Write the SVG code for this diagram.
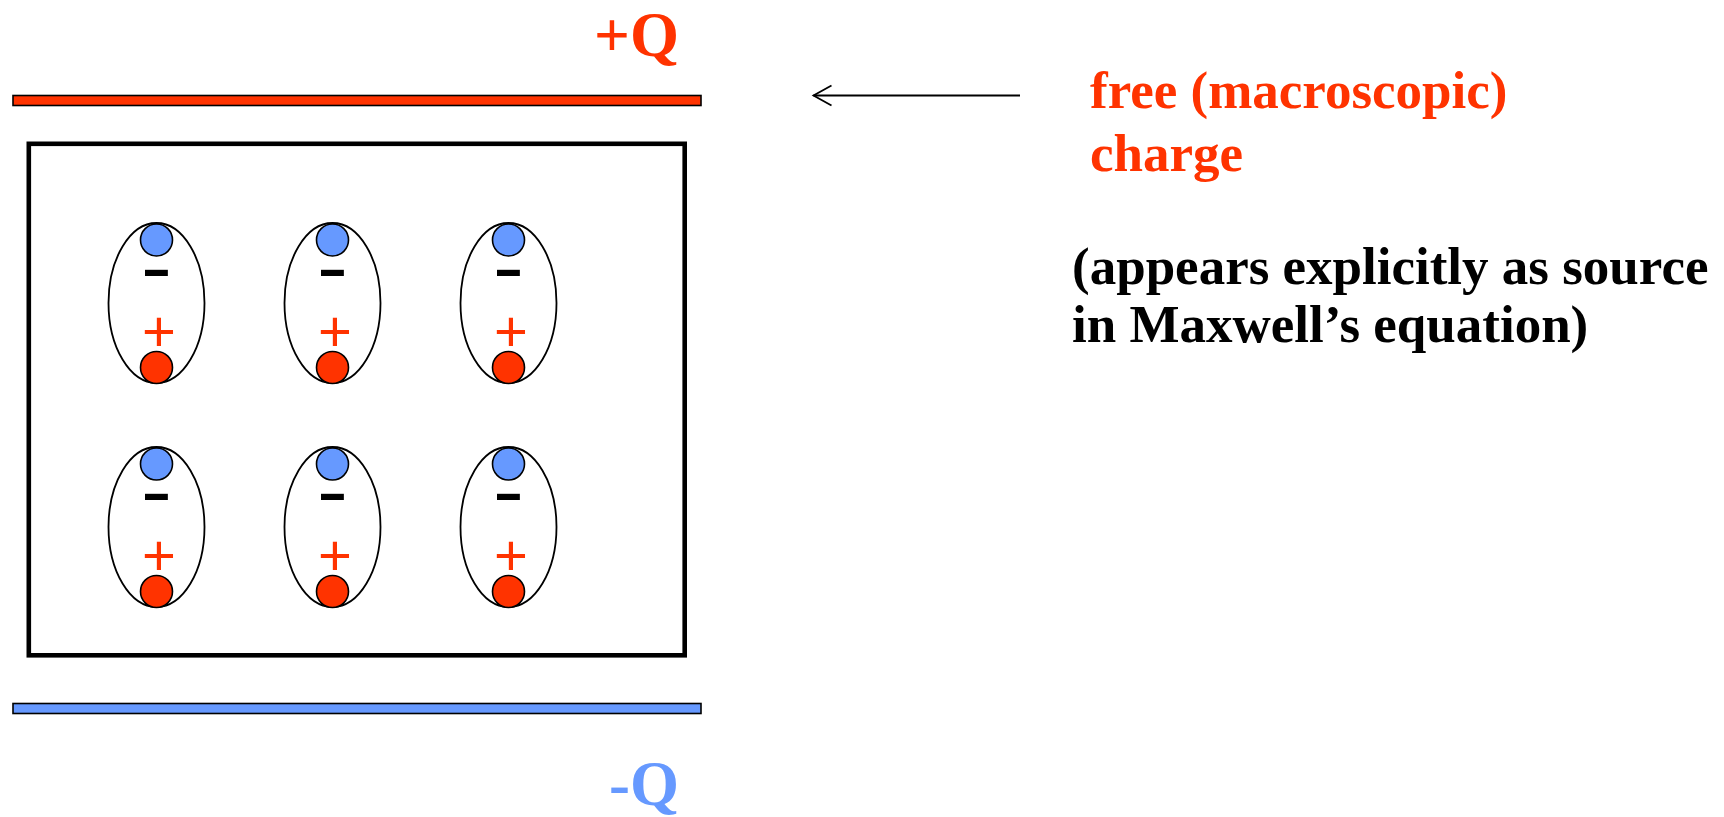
<svg xmlns="http://www.w3.org/2000/svg" width="1724" height="817" viewBox="0 0 1724 817">
  <defs>
    <style>
      .plate { stroke: #000; stroke-width: 1.6; }
      .pos { fill: #FF3300; }
      .neg { fill: #6699FF; }
      .box { fill: none; stroke: #000; stroke-width: 4.6; }
      .shell { fill: none; stroke: #000; stroke-width: 1.8; }
      .atom { stroke: #000; stroke-width: 1.6; }
      .qlabel { font-family: "Liberation Serif", "Times New Roman", serif; font-weight: bold; font-size: 63px; }
      .note { font-family: "Liberation Serif", "Times New Roman", serif; font-weight: bold; font-size: 53px; }
      .plus { font-family: "Liberation Sans", Arial, sans-serif; font-size: 58px; fill: #FF3300; text-anchor: middle; }
      .minus { font-family: "Liberation Sans", Arial, sans-serif; font-weight: bold; font-size: 52px; fill: #000; text-anchor: middle; }
      .conn { fill: none; stroke: #000; stroke-width: 1.8; }
    </style>
    <marker id="openArrow" markerUnits="userSpaceOnUse" markerWidth="26" markerHeight="26" refX="22" refY="12" orient="auto">
      <path d="M4,2 L22,12 L4,22" fill="none" stroke="#000" stroke-width="1.8"/>
    </marker>
    <!-- one dipole: blue (negative) end on top, red (positive) end at the bottom -->
    <g id="dipole">
      <ellipse class="shell" cx="0" cy="0" rx="48" ry="80"/>
      <circle class="atom neg" cx="0" cy="-63" r="16"/>
      <circle class="atom pos" cx="0" cy="64.5" r="16"/>
    </g>
  </defs>

  <!-- capacitor plates -->
  <g id="plate-top">
    <rect class="plate pos" x="13" y="95.5" width="688" height="10"/>
    <text class="qlabel pos" x="679" y="56" text-anchor="end">+Q</text>
  </g>
  <g id="plate-bottom">
    <rect class="plate neg" x="13" y="703.5" width="688" height="10"/>
    <text class="qlabel neg" x="679" y="805" text-anchor="end">-Q</text>
  </g>

  <!-- dielectric slab -->
  <g id="dielectric">
    <rect class="box" x="28.8" y="143.8" width="655.9" height="511.5"/>
  </g>

  <!-- polarized molecules, two rows of three -->
  <g id="dipole-1-1">
    <use href="#dipole" x="156.5" y="303"/>
    <text class="minus" x="156.5" y="286" textLength="30" lengthAdjust="spacingAndGlyphs">-</text>
    <text class="plus" x="159" y="351">+</text>
  </g>
  <g id="dipole-1-2">
    <use href="#dipole" x="332.5" y="303"/>
    <text class="minus" x="332.5" y="286" textLength="30" lengthAdjust="spacingAndGlyphs">-</text>
    <text class="plus" x="335" y="351">+</text>
  </g>
  <g id="dipole-1-3">
    <use href="#dipole" x="508.5" y="303"/>
    <text class="minus" x="508.5" y="286" textLength="30" lengthAdjust="spacingAndGlyphs">-</text>
    <text class="plus" x="511" y="351">+</text>
  </g>
  <g id="dipole-2-1">
    <use href="#dipole" x="156.5" y="527"/>
    <text class="minus" x="156.5" y="510" textLength="30" lengthAdjust="spacingAndGlyphs">-</text>
    <text class="plus" x="159" y="575">+</text>
  </g>
  <g id="dipole-2-2">
    <use href="#dipole" x="332.5" y="527"/>
    <text class="minus" x="332.5" y="510" textLength="30" lengthAdjust="spacingAndGlyphs">-</text>
    <text class="plus" x="335" y="575">+</text>
  </g>
  <g id="dipole-2-3">
    <use href="#dipole" x="508.5" y="527"/>
    <text class="minus" x="508.5" y="510" textLength="30" lengthAdjust="spacingAndGlyphs">-</text>
    <text class="plus" x="511" y="575">+</text>
  </g>

  <!-- annotation -->
  <g id="label-free-charge">
    <text class="note pos" x="1090" y="108">free (macroscopic)</text>
    <text class="note pos" x="1090" y="171">charge</text>
  </g>
  <g id="label-source">
    <text class="note" x="1072" y="284" fill="#000">(appears explicitly as source</text>
    <text class="note" x="1072" y="342" fill="#000">in Maxwell’s equation)</text>
  </g>

  <g id="connectors">
    <line class="conn" x1="1020" y1="95.5" x2="813.5" y2="95.5" marker-end="url(#openArrow)"/>
  </g>
</svg>
